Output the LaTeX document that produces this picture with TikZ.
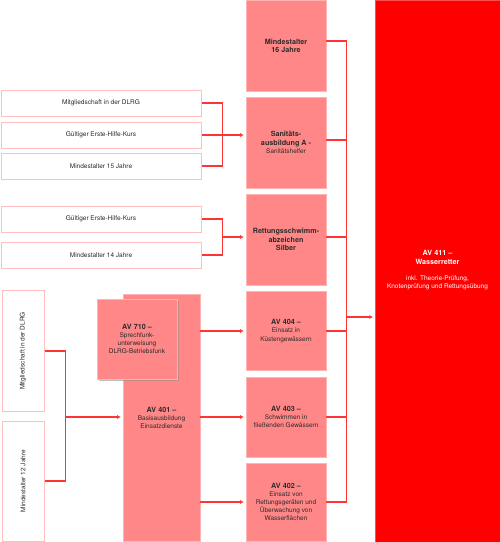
\documentclass[tikz,border=0pt]{standalone}
\usepackage{fontspec}
\setmainfont{TeX Gyre Heros}
\usetikzlibrary{arrows.meta}
\definecolor{salmon}{HTML}{FF8787}
\definecolor{salmonedge}{HTML}{FFB3B3}
\definecolor{pinkedge}{HTML}{FFBFBF}
\definecolor{linered}{HTML}{FF3535}
\definecolor{bigred}{HTML}{FF0000}
\definecolor{txt}{HTML}{2B2B2B}
\newcommand\bt[1]{{\fontsize{7.2}{8.2}\selectfont\bfseries #1}}
\tikzset{
  base/.style={inner sep=0pt, align=center, text=txt, font=\fontsize{6.5}{8.2}\selectfont},
  reqbox/.style={base, draw=pinkedge, line width=1pt, fill=white},
  modbox/.style={base, draw=salmonedge, line width=0.8pt, fill=salmon},
  goalbox/.style={base, draw=bigred!70, fill=bigred, text=white},
  conn/.style={draw=linered, color=linered, line width=1.3pt},
  arr/.style={conn, -{Triangle[length=3.5pt,width=3.5pt]}, shorten >=2pt},
}
\begin{document}
\begin{tikzpicture}[x=1pt,y=-1pt]
\useasboundingbox (0,0) rectangle (500,542);
% left requirement boxes
\node[reqbox, minimum width=200pt, minimum height=26pt] (a1) at (101,103) {Mitgliedschaft in der DLRG};
\node[reqbox, minimum width=200pt, minimum height=26pt] (a2) at (101,135) {Gültiger Erste-Hilfe-Kurs};
\node[reqbox, minimum width=200pt, minimum height=26pt] (a3) at (101,166) {Mindestalter 15 Jahre};
\node[reqbox, minimum width=200pt, minimum height=26pt] (b1) at (101,219) {Gültiger Erste-Hilfe-Kurs};
\node[reqbox, minimum width=200pt, minimum height=26pt] (b2) at (101,255) {Mindestalter 14 Jahre};
\node[reqbox, minimum width=42pt, minimum height=121pt] (c1) at (23,351) {};
\node[base, rotate=90] (c1t) at (c1.center) {Mitgliedschaft in der DLRG};
\node[reqbox, minimum width=42pt, minimum height=120pt] (c2) at (23,481) {};
\node[base, rotate=90] (c2t) at (c2.center) {Mindestalter 12 Jahre};
% middle module boxes
\node[modbox, minimum width=80pt, minimum height=91pt] (m16) at (286,45.5) {\bt{Mindestalter}\\\bt{16 Jahre}};
\node[modbox, minimum width=80pt, minimum height=91pt] (san) at (286,142.5) {\bt{Sanitäts-}\\\bt{ausbildung A -}\\Sanitätshelfer};
\node[modbox, minimum width=80pt, minimum height=91pt] (rs) at (286,239.5) {\bt{Rettungsschwimm-}\\\bt{abzeichen}\\\bt{Silber}};
\node[modbox, minimum width=80pt, minimum height=79pt] (av404) at (286,331) {\bt{AV 404 –}\\Einsatz in\\Küstengewässern};
\node[modbox, minimum width=80pt, minimum height=80pt] (av403) at (286,417) {\bt{AV 403 –}\\Schwimmen in\\fließenden Gewässern};
\node[modbox, minimum width=80pt, minimum height=78pt] (av402) at (286,502) {\bt{AV 402 –}\\Einsatz von\\Rettungsgeräten und\\Überwachung von\\Wasserflächen};
% AV 401 and AV 710
\node[modbox, minimum width=77pt, minimum height=247pt] (av401) at (161.5,418) {\bt{AV 401 –}\\Basisausbildung\\Einsatzdienste};
\fill[black!45, opacity=0.55] (98.5,300.5) rectangle (178.8,380.8);
\node[modbox, minimum width=80pt, minimum height=80pt] (av710) at (137,339) {\bt{AV 710 –}\\Sprechfunk-\\unterweisung\\DLRG-Betriebsfunk};
% goal box
\node[goalbox, minimum width=125pt, minimum height=542pt] (goal) at (437.5,271) {};
\node[base, text=white, anchor=north] (goaltxt) at (437.5,250.5) {\bt{AV 411 –}\\\bt{Wasserretter}\\[8.2pt]inkl. Theorie-Prüfung,\\Knotenprüfung und Rettungsübung};
% connectors group A
\draw[conn] (a1.east) -- ++(21,0) |- (a3.east);
\draw[arr] (a2.east) -- (a2.east -| san.west);
% group B
\draw[conn] (b1.east) -- ++(21,0) |- (b2.east);
\coordinate (jb) at (222.5,237);
\draw[arr] (jb) -- (jb -| rs.west);
% group C
\draw[conn] (c1.east) -- ++(21,0) |- (c2.east);
\coordinate (jc) at (65.5,417);
\draw[arr] (jc) -- (jc -| av401.west);
% AV 401 to modules
\draw[arr] (av401.east |- av404.west) -- (av404.west);
\draw[arr] (av401.east |- av403.west) -- (av403.west);
\draw[arr] (av401.east |- av402.west) -- (av402.west);
% bus to goal
\draw[conn] ([yshift=4.5pt]m16.east) -- ++(20,0) |- (av402.east);
\draw[conn] ([yshift=2.5pt]san.east) -- ++(20,0);
\draw[conn] ([yshift=2.5pt]rs.east) -- ++(20,0);
\draw[conn] (av404.east) -- ++(20,0);
\draw[conn] (av403.east) -- ++(20,0);
\coordinate (bus) at (346.4,317);
\draw[arr] (bus) -- (bus -| goal.west);
\end{tikzpicture}
\end{document}
